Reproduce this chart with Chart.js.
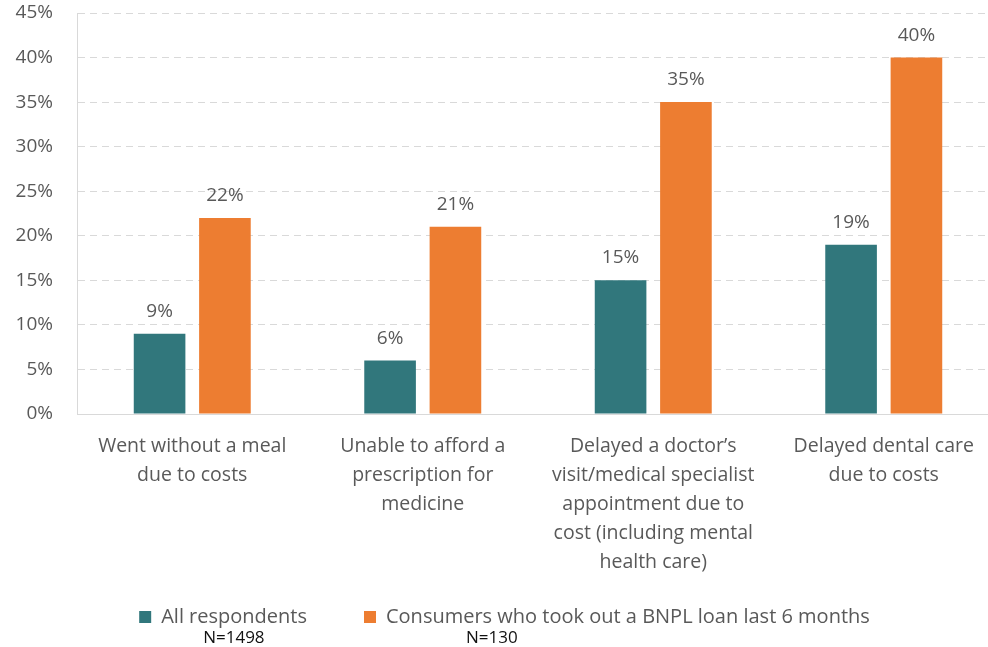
<!DOCTYPE html>
<html lang="en">
<head>
    <meta charset="UTF-8">
    <title>Cost-related hardship by BNPL use</title>
    <script src="https://cdn.jsdelivr.net/npm/chart.js"></script>
    <style>
        body { margin: 0; background: #fff; overflow: hidden; }
        .wrap { position: relative; width: 1010px; height: 647px; }
    </style>
</head>
<body>
    <div class="wrap">
        <canvas id="hardshipChart"></canvas>
    </div>

    <script>
        // categories (wrapped the same way as the original)
        const categories = [
            ['Went without a meal', 'due to costs'],
            ['Unable to afford a', 'prescription for', 'medicine'],
            ['Delayed a doctor\u2019s', 'visit/medical specialist', 'appointment due to', 'cost (including mental', 'health care)'],
            ['Delayed dental care', 'due to costs']
        ];
        const seriesNames = ['All respondents', 'Consumers who took out a BNPL loan last 6 months'];
        const sampleSizes = ['N=1498', 'N=130'];
        const allRespondents = [9, 6, 15, 19];
        const bnplUsers = [22, 21, 35, 40];
        const yTicks = [0, 5, 10, 15, 20, 25, 30, 35, 40, 45];

        const textGrey = '#595959';
        const font = '"Open Sans", sans-serif';

        // percentage labels above each bar
        const barValueLabels = {
            id: 'barValueLabels',
            afterDatasetsDraw(chart) {
                const ctx = chart.ctx;
                ctx.save();
                ctx.font = '19px ' + font;
                ctx.fillStyle = textGrey;
                ctx.textAlign = 'center';
                ctx.textBaseline = 'alphabetic';
                chart.data.datasets.forEach((ds, i) => {
                    chart.getDatasetMeta(i).data.forEach((bar, j) => {
                        ctx.fillText(ds.data[j] + '%', bar.x, bar.y - 17);
                    });
                });
                ctx.restore();
            }
        };

        // keep the wide gap between legend items without a tall legend box,
        // and write the sample size under each entry
        const nOffsets = [42, 80];
        const legendTweaks = {
            id: 'legendTweaks',
            afterInit(chart) {
                const legend = chart.legend;
                const fit = legend.fit;
                legend.fit = function () {
                    fit.call(this);
                    this.height = 68;
                };
            },
            afterLayout(chart) {
                // pull the legend up so its row sits just under the labels
                chart.legend.top = chart.legend.bottom - 97;
            },
            afterDraw(chart) {
                const boxes = chart.legend.legendHitBoxes;
                const ctx = chart.ctx;
                ctx.save();
                ctx.font = '17px ' + font;
                ctx.fillStyle = '#111';
                ctx.textAlign = 'left';
                ctx.textBaseline = 'middle';
                boxes.forEach((b, i) => {
                    const textStart = b.left + 12 + 10;
                    ctx.fillText(sampleSizes[i], textStart + nOffsets[i], b.top + b.height / 2 + 21);
                });
                ctx.restore();
            }
        };

        new Chart(document.getElementById('hardshipChart'), {
            type: 'bar',
            data: {
                labels: categories,
                datasets: [
                    {
                        label: seriesNames[0],
                        data: allRespondents,
                        backgroundColor: '#31777C'
                    },
                    {
                        label: seriesNames[1],
                        data: bnplUsers,
                        backgroundColor: '#ED7D31'
                    }
                ]
            },
            options: {
                responsive: true,
                maintainAspectRatio: false,
                animation: false,
                datasets: {
                    bar: { categoryPercentage: 0.567, barPercentage: 0.79 }
                },
                layout: {
                    padding: { left: 10, right: 11, top: 0, bottom: 0 }
                },
                scales: {
                    x: {
                        grid: { display: false },
                        border: { display: true, color: '#D9D9D9', width: 1 },
                        ticks: {
                            color: textGrey,
                            font: { family: font, size: 19.5, lineHeight: 1.49 },
                            maxRotation: 0,
                            autoSkip: false,
                            padding: 10
                        },
                        afterFit(axis) {
                            axis.height = 165;
                        }
                    },
                    y: {
                        min: 0,
                        max: 45,
                        afterBuildTicks(axis) {
                            axis.ticks = yTicks.map(v => ({ value: v }));
                        },
                        afterFit(axis) {
                            axis.width = 67;
                            axis.paddingTop = 13;
                            axis.paddingBottom = 0;
                        },
                        grid: {
                            color: '#D9D9D9',
                            lineWidth: 1,
                            drawTicks: false
                        },
                        border: { display: true, color: '#D9D9D9', dash: [7, 5] },
                        ticks: {
                            color: textGrey,
                            font: { family: font, size: 19 },
                            padding: 24,
                            callback: v => v + '%'
                        }
                    }
                },
                plugins: {
                    legend: {
                        position: 'bottom',
                        labels: {
                            color: textGrey,
                            font: { family: font, size: 20 },
                            boxWidth: 12,
                            boxHeight: 12,
                            padding: 57
                        }
                    },
                    tooltip: { enabled: false }
                }
            },
            plugins: [barValueLabels, legendTweaks]
        });
    </script>
</body>
</html>
